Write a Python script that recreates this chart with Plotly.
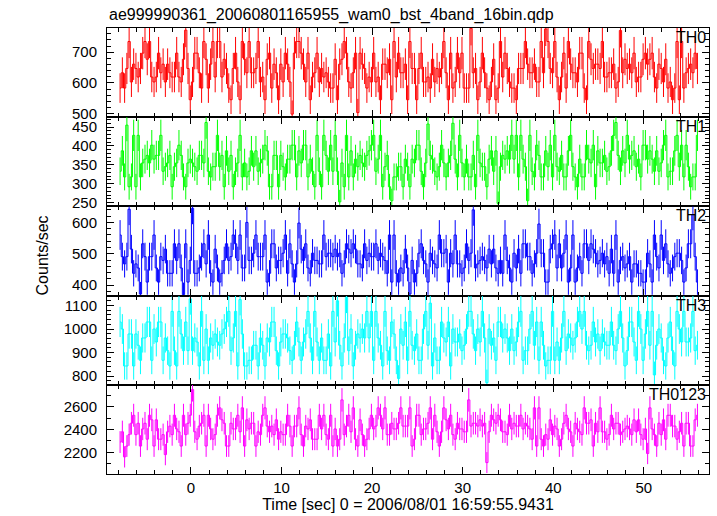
import numpy as np
import plotly.graph_objects as go
from plotly.subplots import make_subplots

# ---- data (0.25 s bins) ----
t_start = -7.825
bin_width = 0.25

th0 = [
 583, 633, 583, 647, 735, 603, 661, 647, 619, 647, 697, 735, 677, 735, 619, 603,
 619, 697, 633, 661, 603, 661, 633, 619, 619, 697, 619, 603, 677, 772, 647, 545,
 603, 697, 697, 633, 583, 735, 677, 583, 661, 735, 619, 735, 735, 619, 677, 647,
 583, 545, 647, 697, 603, 545, 735, 677, 633, 735, 633, 633, 647, 735, 603, 619,
 545, 677, 697, 583, 661, 633, 545, 661, 603, 697, 661, 603, 498, 697, 735, 735,
 697, 661, 603, 697, 545, 619, 633, 697, 603, 647, 619, 633, 603, 583, 583, 677,
 545, 661, 677, 735, 697, 603, 583, 633, 697, 503, 697, 661, 647, 583, 619, 603,
 697, 603, 619, 545, 661, 661, 633, 677, 545, 735, 619, 697, 633, 633, 661, 545,
 735, 647, 647, 545, 647, 697, 603, 603, 619, 583, 677, 603, 647, 619, 647, 735,
 633, 545, 697, 583, 603, 697, 633, 697, 583, 583, 583, 778, 633, 647, 545, 603,
 697, 633, 583, 545, 603, 677, 545, 583, 735, 619, 697, 647, 603, 583, 583, 545,
 647, 647, 647, 735, 661, 633, 633, 661, 603, 603, 735, 633, 776, 735, 647, 633,
 735, 619, 545, 619, 697, 583, 735, 661, 633, 633, 603, 697, 697, 583, 545, 735,
 677, 647, 661, 661, 647, 735, 619, 619, 633, 633, 661, 583, 603, 771, 633, 677,
 647, 661, 633, 697, 603, 619, 619, 677, 697, 661, 677, 697, 619, 583, 661, 647,
 603, 677, 583, 603, 545, 583, 735, 545, 735, 583, 633, 647, 661, 633, 697, 647,
]

th1 = [
 333, 387, 318, 455, 292, 318, 428, 292, 428, 318, 355, 365, 375, 355, 402, 365,
 375, 375, 428, 333, 345, 355, 375, 292, 345, 355, 402, 375, 318, 292, 355, 365,
 355, 345, 333, 375, 375, 355, 462, 333, 318, 345, 345, 428, 345, 375, 292, 387,
 333, 375, 292, 333, 355, 428, 318, 355, 318, 333, 387, 345, 387, 333, 355, 365,
 402, 387, 292, 292, 375, 375, 292, 375, 345, 318, 365, 365, 402, 402, 318, 387,
 355, 402, 402, 318, 365, 333, 292, 428, 333, 292, 428, 375, 333, 402, 333, 428,
 333, 252, 355, 292, 428, 318, 387, 318, 365, 345, 375, 355, 345, 375, 387, 402,
 428, 333, 365, 428, 292, 345, 375, 292, 255, 318, 318, 345, 345, 292, 365, 345,
 292, 365, 355, 402, 402, 333, 292, 355, 458, 375, 365, 333, 318, 345, 402, 355,
 318, 355, 375, 460, 365, 318, 428, 355, 318, 365, 318, 318, 375, 292, 428, 355,
 345, 345, 292, 365, 387, 333, 387, 248, 345, 375, 365, 387, 365, 428, 365, 428,
 318, 428, 365, 345, 255, 428, 333, 318, 402, 375, 318, 318, 387, 345, 402, 318,
 428, 345, 333, 375, 318, 318, 387, 428, 345, 318, 292, 365, 318, 318, 402, 365,
 355, 402, 292, 387, 355, 355, 375, 333, 345, 387, 428, 462, 375, 333, 387, 355,
 428, 365, 375, 387, 345, 365, 318, 402, 402, 365, 387, 365, 333, 387, 333, 355,
 402, 428, 318, 333, 333, 387, 428, 345, 402, 318, 402, 345, 292, 318, 318, 428,
]

th2 = [
 560, 491, 468, 491, 642, 515, 438, 468, 455, 372, 532, 491, 410, 491, 491, 560,
 455, 410, 491, 479, 515, 438, 438, 438, 532, 479, 532, 455, 370, 532, 410, 479,
 645, 438, 438, 455, 491, 532, 468, 560, 438, 410, 515, 455, 410, 438, 479, 532,
 479, 491, 560, 532, 479, 560, 455, 455, 600, 479, 479, 502, 560, 491, 491, 491,
 560, 410, 438, 532, 532, 455, 479, 479, 502, 560, 438, 532, 468, 410, 468, 598,
 515, 479, 532, 455, 438, 502, 479, 479, 468, 468, 560, 491, 502, 502, 491, 515,
 491, 502, 438, 468, 532, 515, 502, 532, 515, 468, 468, 455, 532, 479, 502, 491,
 491, 532, 479, 502, 491, 479, 438, 560, 410, 560, 438, 410, 455, 438, 515, 455,
 372, 479, 410, 438, 502, 532, 479, 468, 410, 502, 479, 468, 455, 560, 502, 502,
 515, 410, 502, 468, 560, 468, 468, 438, 455, 532, 479, 502, 640, 455, 468, 479,
 491, 479, 455, 515, 468, 515, 455, 438, 479, 438, 560, 479, 455, 410, 502, 455,
 515, 438, 532, 532, 491, 491, 438, 468, 502, 595, 502, 502, 410, 410, 515, 532,
 560, 455, 532, 455, 502, 560, 410, 455, 560, 410, 455, 491, 438, 532, 532, 479,
 532, 515, 502, 468, 479, 502, 468, 491, 438, 515, 438, 560, 410, 479, 491, 455,
 468, 491, 410, 468, 468, 438, 438, 410, 410, 502, 468, 410, 560, 491, 455, 560,
 479, 532, 468, 438, 455, 491, 502, 502, 479, 410, 455, 532, 532, 625, 491, 410,
]

th3 = [
 1030, 1000, 843, 843, 979, 979, 843, 979, 931, 867, 962, 962, 1030, 1030, 867, 1000,
 945, 1030, 1030, 867, 962, 908, 843, 1075, 908, 843, 1075, 979, 908, 1030, 908, 1128,
 908, 962, 945, 843, 1075, 867, 1000, 867, 962, 931, 979, 945, 931, 979, 1000, 1030,
 1075, 908, 962, 1075, 843, 1125, 979, 843, 843, 867, 867, 931, 931, 843, 962, 931,
 843, 962, 945, 1030, 1030, 908, 843, 945, 979, 979, 962, 908, 867, 931, 1030, 945,
 867, 945, 979, 1075, 962, 867, 1075, 945, 867, 962, 867, 867, 979, 843, 1075, 945,
 1120, 931, 843, 962, 1135, 908, 1000, 843, 931, 979, 962, 1000, 962, 1075, 962, 1075,
 867, 1075, 962, 931, 843, 1075, 908, 867, 1030, 979, 867, 790, 1000, 931, 1030, 867,
 1075, 931, 908, 979, 867, 867, 1000, 1075, 931, 1110, 843, 962, 867, 867, 1030, 962,
 945, 1030, 843, 1000, 945, 945, 979, 908, 931, 1000, 1075, 1075, 979, 908, 1000, 945,
 1075, 962, 772, 1000, 931, 962, 867, 1030, 1030, 962, 1000, 962, 908, 1000, 908, 945,
 1030, 1075, 867, 908, 908, 1000, 1075, 931, 1030, 867, 1030, 931, 843, 867, 867, 1075,
 867, 945, 867, 962, 1075, 908, 979, 962, 931, 962, 1030, 1075, 1000, 1075, 931, 908,
 931, 1030, 945, 979, 908, 979, 945, 931, 931, 1030, 931, 908, 1000, 1075, 962, 843,
 908, 1030, 1030, 945, 867, 1075, 1000, 867, 979, 1075, 931, 1075, 805, 931, 1000, 962,
 867, 843, 962, 1030, 908, 843, 1075, 1000, 945, 1075, 945, 945, 962, 1075, 908, 931,
]

th0123 = [
 2290, 2380, 2160, 2255, 2355, 2455, 2525, 2355, 2455, 2255, 2405, 2455, 2315, 2525, 2485, 2255,
 2485, 2315, 2315, 2355, 2180, 2380, 2430, 2355, 2525, 2405, 2380, 2255, 2525, 2355, 2455, 2525,
 2750, 2380, 2315, 2430, 2455, 2525, 2255, 2525, 2405, 2315, 2355, 2525, 2590, 2485, 2455, 2255,
 2255, 2455, 2405, 2405, 2525, 2380, 2590, 2255, 2485, 2405, 2455, 2455, 2255, 2380, 2355, 2525,
 2590, 2430, 2380, 2430, 2355, 2485, 2315, 2380, 2355, 2355, 2525, 2430, 2255, 2430, 2430, 2590,
 2355, 2255, 2430, 2405, 2485, 2315, 2315, 2315, 2525, 2405, 2525, 2355, 2315, 2525, 2255, 2405,
 2255, 2315, 2660, 2355, 2430, 2525, 2380, 2590, 2315, 2255, 2485, 2355, 2255, 2315, 2405, 2525,
 2405, 2430, 2590, 2525, 2405, 2590, 2355, 2355, 2455, 2405, 2405, 2455, 2590, 2430, 2430, 2430,
 2590, 2255, 2315, 2525, 2525, 2355, 2405, 2405, 2455, 2590, 2315, 2525, 2380, 2255, 2380, 2590,
 2485, 2405, 2525, 2355, 2315, 2455, 2405, 2405, 2380, 2380, 2660, 2430, 2455, 2455, 2430, 2485,
 2430, 2455, 2110, 2380, 2525, 2485, 2455, 2525, 2485, 2380, 2380, 2355, 2525, 2405, 2455, 2430,
 2430, 2525, 2405, 2455, 2430, 2405, 2315, 2590, 2255, 2590, 2315, 2255, 2355, 2315, 2485, 2355,
 2430, 2405, 2255, 2315, 2455, 2525, 2405, 2380, 2255, 2455, 2405, 2380, 2355, 2590, 2455, 2455,
 2485, 2255, 2455, 2380, 2590, 2380, 2380, 2315, 2355, 2525, 2405, 2455, 2455, 2355, 2380, 2405,
 2430, 2405, 2355, 2485, 2380, 2485, 2355, 2315, 2405, 2190, 2590, 2405, 2355, 2255, 2455, 2355,
 2485, 2315, 2525, 2525, 2430, 2430, 2315, 2380, 2455, 2255, 2455, 2455, 2255, 2255, 2485, 2525,
]

names = ["TH0", "TH1", "TH2", "TH3", "TH0123"]
series = [th0, th1, th2, th3, th0123]
colors = ["#ff0000", "#00ff00", "#0000ff", "#00ffff", "#ff00ff"]
y_ranges = [[488, 779], [240, 476], [367, 651], [763, 1142], [2010, 2792]]
y_dticks = [100, 50, 100, 100, 200]
y_minor = [20, 10, 20, 20, 100]

title_text = "ae999990361_20060801165955_wam0_bst_4band_16bin.qdp"
x_title = "Time [sec] 0 = 2006/08/01 16:59:55.9431"
y_title = "Counts/sec"

FONT = "Liberation Sans, Arial, Helvetica, sans-serif"

fig = make_subplots(rows=5, cols=1, shared_xaxes=True, vertical_spacing=0)

for i, (vals, col) in enumerate(zip(series, colors)):
    v = np.array(vals, dtype=float)
    t = t_start + bin_width * np.arange(len(v))
    err = np.sqrt(v / bin_width)
    fig.add_trace(go.Scatter(
        x=t, y=v, mode="lines", line=dict(color=col, width=1, shape="hvh"),
        error_y=dict(type="data", array=err, visible=True, color=col,
                     thickness=1, width=0),
        showlegend=False, hoverinfo="skip"), row=i + 1, col=1)

for i in range(5):
    fig.update_yaxes(
        range=y_ranges[i], dtick=y_dticks[i], tick0=0,
        ticks="inside", ticklen=7, tickwidth=1, tickcolor="black",
        minor=dict(dtick=y_minor[i], ticks="inside", ticklen=4, tickcolor="black", tickwidth=1),
        showline=True, linecolor="black", linewidth=1, mirror="allticks",
        showgrid=False, zeroline=False,
        tickfont=dict(family=FONT, size=15, color="black"),
        ticklabelstandoff=6,
        row=i + 1, col=1)
    fig.update_xaxes(
        range=[-9.27, 57.2], dtick=10, tick0=0,
        ticks="inside", ticklen=7, tickwidth=1, tickcolor="black",
        minor=dict(dtick=2, ticks="inside", ticklen=4, tickcolor="black", tickwidth=1),
        showline=True, linecolor="black", linewidth=1, mirror="allticks",
        showgrid=False, zeroline=False,
        showticklabels=(i == 4),
        tickfont=dict(family=FONT, size=15, color="black"),
        row=i + 1, col=1)

fig.update_xaxes(title=dict(text=x_title, font=dict(family=FONT, size=16, color="black"),
                            standoff=2), row=5, col=1)

annotations = []
for i, name in enumerate(names):
    yref = "y domain" if i == 0 else f"y{i+1} domain"
    annotations.append(dict(text=name, xref="paper", x=1, xanchor="right", xshift=-1,
                            yref=yref, y=1, yanchor="top", yshift=1, showarrow=False,
                            font=dict(family=FONT, size=16, color="black")))
annotations.append(dict(text=title_text, xref="paper", x=0, xanchor="left",
                        yref="paper", y=1, yanchor="bottom", yshift=2, showarrow=False,
                        font=dict(family=FONT, size=16, color="black")))
annotations.append(dict(text=y_title, xref="paper", x=0, xanchor="center", xshift=-65,
                        yref="paper", y=0.49, yanchor="middle", textangle=-90, showarrow=False,
                        font=dict(family=FONT, size=16, color="black")))

fig.update_layout(
    width=717, height=516,
    margin=dict(l=107, r=7, t=28, b=40, pad=0),
    paper_bgcolor="white", plot_bgcolor="white",
    annotations=annotations,
    font=dict(family=FONT, color="black"),
)

fig.write_html("out.html", config={"displayModeBar": False, "staticPlot": True},
               post_script="document.body.style.margin='0';document.body.style.overflow='hidden';")
